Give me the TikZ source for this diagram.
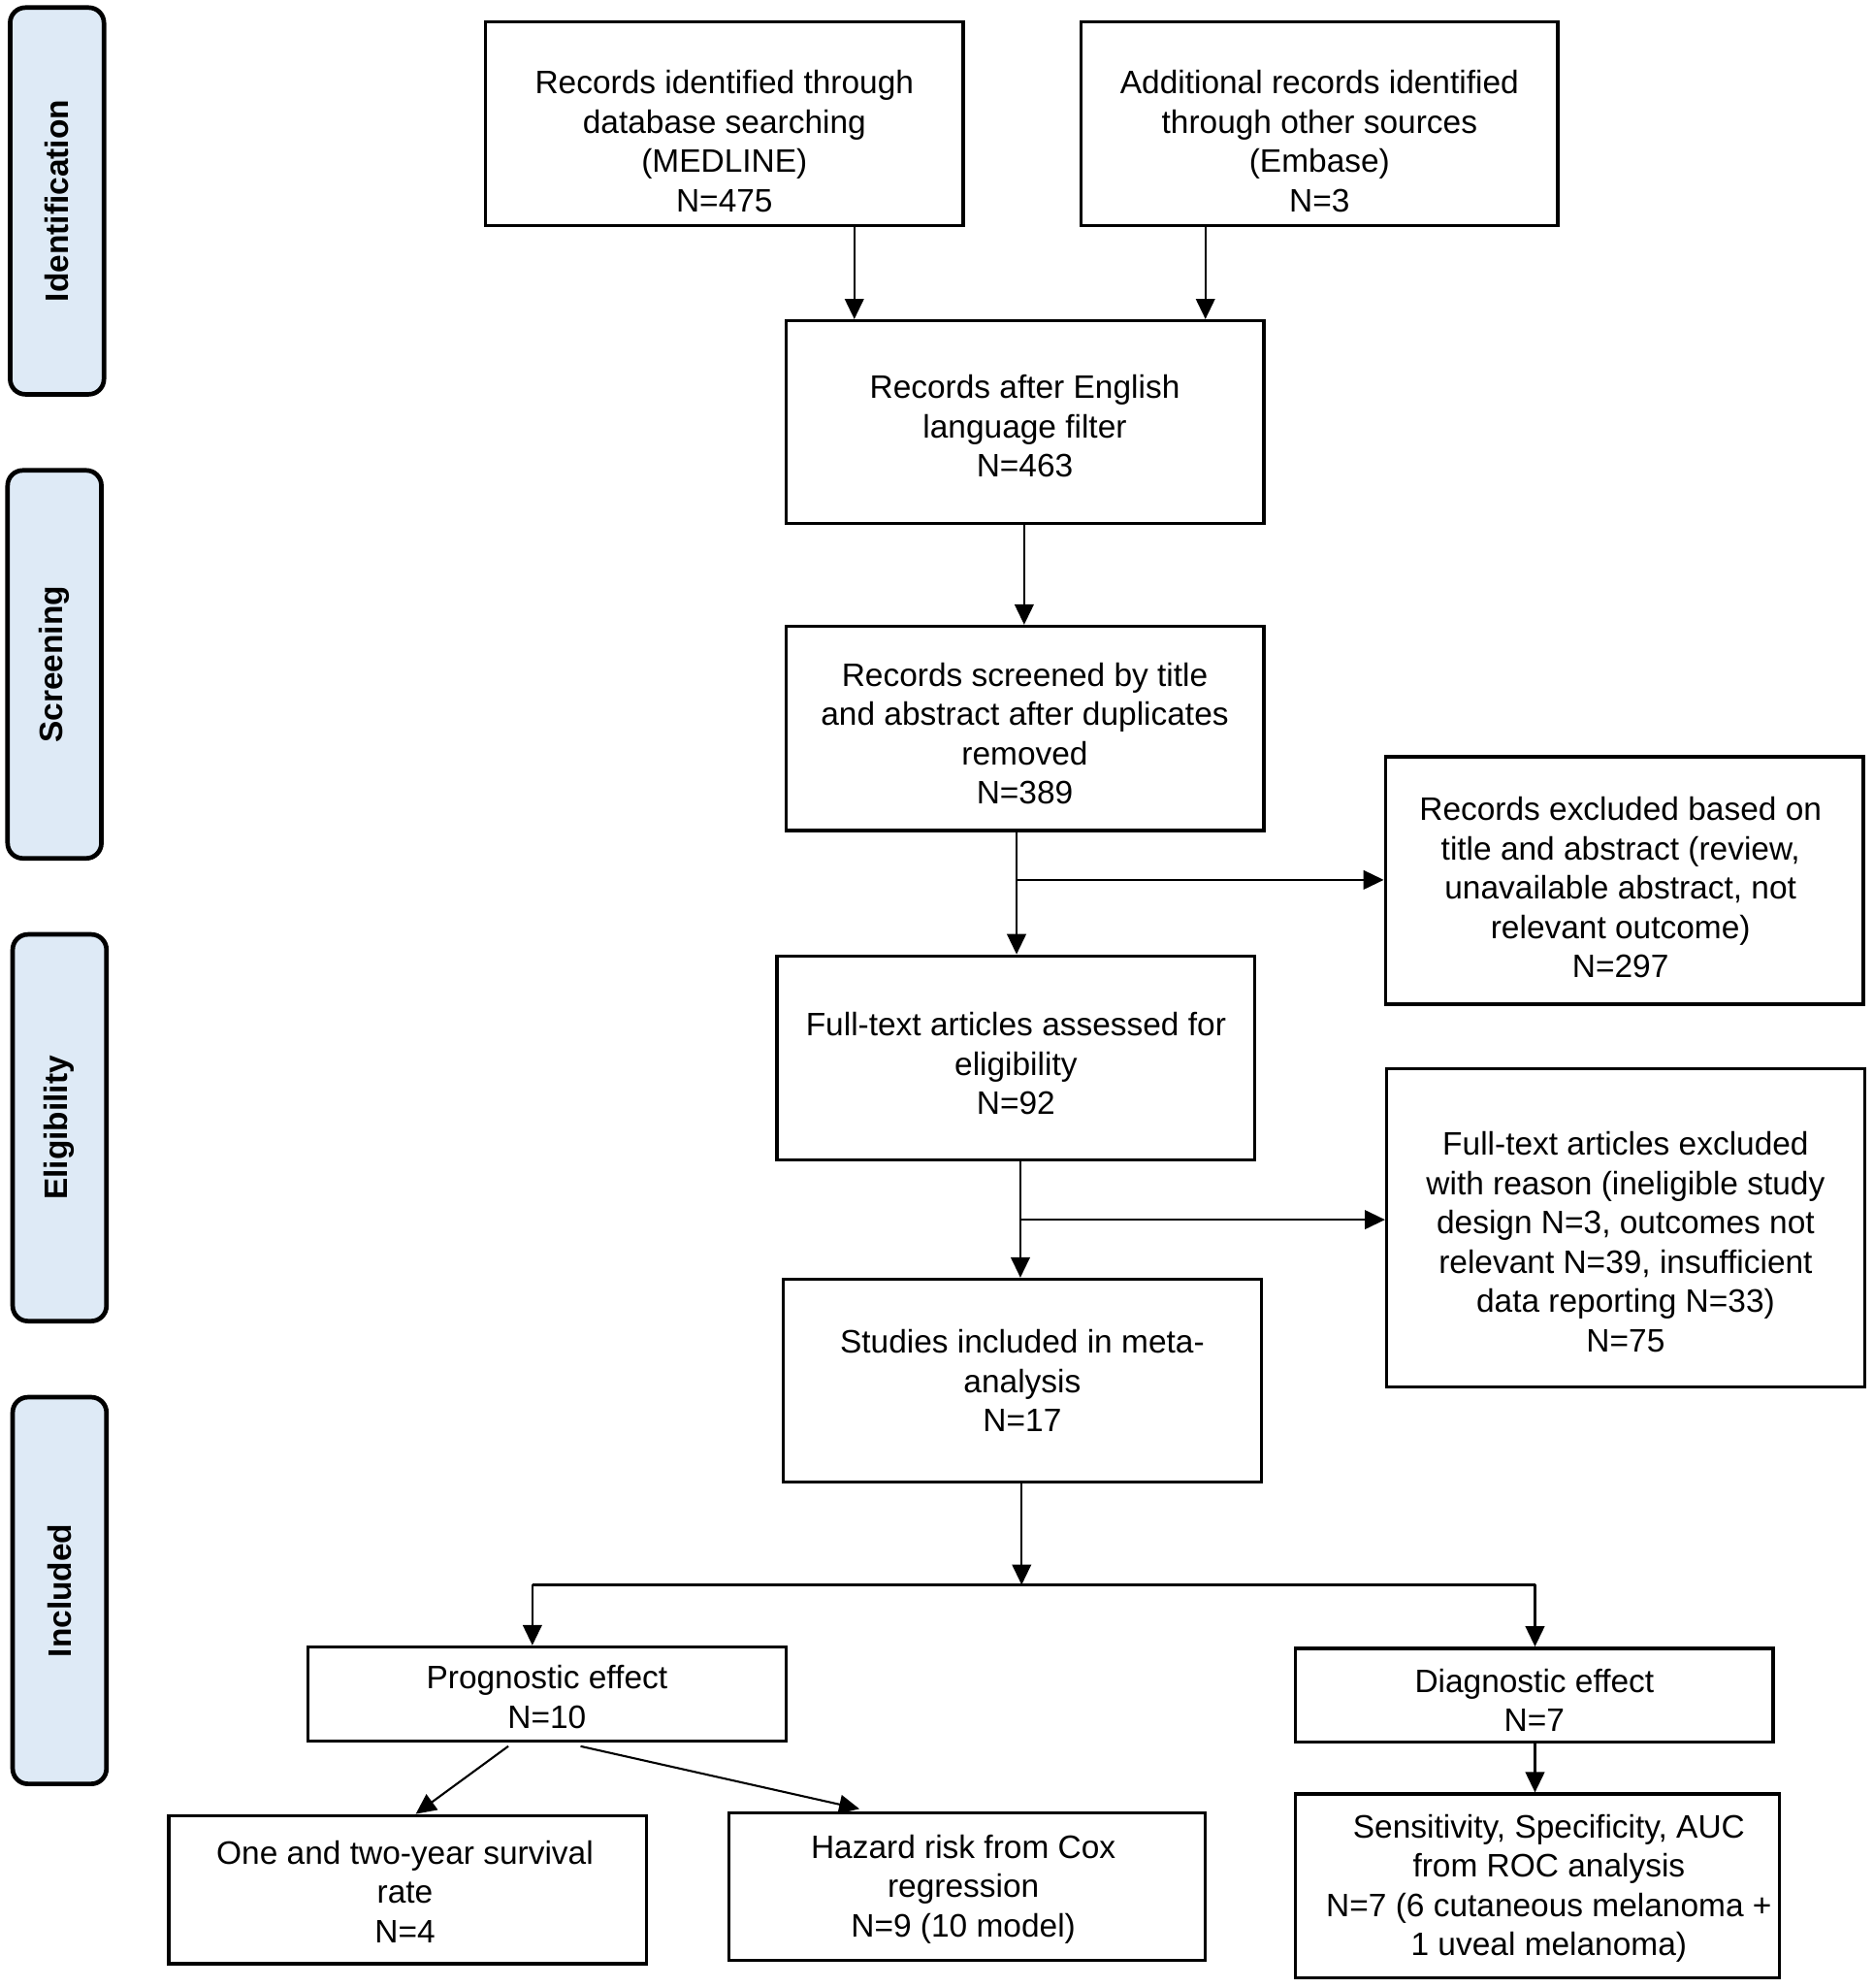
\documentclass[tikz,border=0pt]{standalone}
\usepackage{fontspec}
\setmainfont{Liberation Sans}
\usetikzlibrary{arrows.meta,calc}
\definecolor{sidefill}{HTML}{DEEAF6}
\tikzset{
  flowbox/.style={draw=black, line width=1.3pt, fill=white, inner sep=0pt},
  flowtxt/.style={align=center, inner sep=0pt, font=\fontsize{12.8}{15.5}\selectfont},
  sidebox/.style={draw=black, line width=1.8pt, fill=sidefill, rounded corners=6pt, inner sep=0pt},
  sidetxt/.style={rotate=90, inner sep=0pt, font=\fontsize{12.8}{15.5}\selectfont\bfseries},
  arr/.style={line width=0.8pt, -{Triangle[length=8pt,width=7.5pt]}},
  ln/.style={line width=0.8pt}
}
\begin{document}
\begin{tikzpicture}[x=0.5pt,y=-0.5pt]
\useasboundingbox (0,0) rectangle (1478,1568);
% side labels
\node[sidebox, minimum width=37pt, minimum height=152.5pt] (s1) at (45,158.5) {};
\node[sidetxt] (s1t) at (s1.center) {Identification};
\node[sidebox, minimum width=37pt, minimum height=153pt] (s2) at (43,524) {};
\node[sidetxt] (s2t) at (s2.center) {Screening};
\node[sidebox, minimum width=37pt, minimum height=152.5pt] (s3) at (47,889.5) {};
\node[sidetxt] (s3t) at (s3.center) {Eligibility};
\node[sidebox, minimum width=37pt, minimum height=152.5pt] (s4) at (47,1254.5) {};
\node[sidetxt] (s4t) at (s4.center) {Included};
% boxes
\node[flowbox, minimum width=188.5pt, minimum height=80.5pt] (A) at (571.5,97.5) {};
\node[flowtxt] (At) at ($(A.center)+(0,14)$) {Records identified through\\database searching\\(MEDLINE)\\N=475};
\node[flowbox, minimum width=188pt, minimum height=80.5pt] (B) at (1041,97.5) {};
\node[flowtxt] (Bt) at ($(B.center)+(0,14)$) {Additional records identified\\through other sources\\(Embase)\\N=3};
\node[flowbox, minimum width=188.5pt, minimum height=80pt] (C) at (808.5,333) {};
\node[flowtxt] (Ct) at ($(C.center)+(0,3)$) {Records after English\\language filter\\N=463};
\node[flowbox, minimum width=188.5pt, minimum height=80.5pt] (D) at (808.5,574.5) {};
\node[flowtxt] (Dt) at ($(D.center)+(0,4)$) {Records screened by title\\and abstract after duplicates\\removed\\N=389};
\node[flowbox, minimum width=188.5pt, minimum height=97.5pt] (E) at (1281.5,694.5) {};
\node[flowtxt] (Et) at ($(E.center)+(-3,5.5)$) {Records excluded based on\\title and abstract (review,\\unavailable abstract, not\\relevant outcome)\\N=297};
\node[flowbox, minimum width=188.5pt, minimum height=80.5pt] (F) at (801.5,834.5) {};
\node[flowtxt] (Ft) at ($(F.center)+(0,4.5)$) {Full-text articles assessed for\\eligibility\\N=92};
\node[flowbox, minimum width=188.5pt, minimum height=125.5pt] (G) at (1282.5,968.5) {};
\node[flowtxt] (Gt) at ($(G.center)+(0,11)$) {Full-text articles excluded\\with reason (ineligible study\\design N=3, outcomes not\\relevant N=39, insufficient\\data reporting N=33)\\N=75};
\node[flowbox, minimum width=188.5pt, minimum height=80pt] (H) at (806.5,1089) {};
\node[flowtxt] (Ht) at ($(H.center)+(0,0)$) {Studies included in meta-\\analysis\\N=17};
\node[flowbox, minimum width=188.5pt, minimum height=37pt] (I) at (431.5,1336) {};
\node[flowtxt] (It) at ($(I.center)+(0,2.5)$) {Prognostic effect\\N=10};
\node[flowbox, minimum width=188.5pt, minimum height=37pt] (J) at (1210.5,1337) {};
\node[flowtxt] (Jt) at ($(J.center)+(0,4)$) {Diagnostic effect\\N=7};
\node[flowbox, minimum width=188.5pt, minimum height=58.5pt] (K) at (321.5,1490.5) {};
\node[flowtxt] (Kt) at ($(K.center)+(-2,1.5)$) {One and two-year survival\\rate\\N=4};
\node[flowbox, minimum width=188pt, minimum height=58pt] (L) at (763,1488) {};
\node[flowtxt] (Lt) at ($(L.center)+(-3,2)$) {Hazard risk from Cox\\regression\\N=9 (10 model)};
\node[flowbox, minimum width=191pt, minimum height=72.5pt] (M) at (1213,1487.5) {};
\node[flowtxt] (Mt) at ($(M.center)+(9,2)$) {Sensitivity, Specificity, AUC\\from ROC analysis\\N=7 (6 cutaneous melanoma +\\1 uveal melanoma)};
% helper coordinates
\coordinate (xa) at (674,0);
\coordinate (xb) at (951,0);
\coordinate (xc) at (808,0);
\coordinate (xd) at (802,0);
\coordinate (xf) at (805,0);
\coordinate (xh) at (806,0);
\coordinate (xi) at (420,0);
\coordinate (xj) at (1211,0);
\coordinate (yd) at (0,694);
\coordinate (yf) at (0,962);
\coordinate (split) at (806,1250);
\coordinate (xk1) at (401,0);
\coordinate (xk2) at (328,0);
\coordinate (xl1) at (458,0);
\coordinate (xl2) at (678,0);
% connectors
\draw[arr] (A.south -| xa) -- (C.north -| xa);
\draw[arr] (B.south -| xb) -- (C.north -| xb);
\draw[arr] (C.south -| xc) -- (D.north -| xc);
\draw[arr] (D.south -| xd) -- (F.north -| xd);
\draw[arr] (xd |- yd) -- (E.west |- yd);
\draw[arr] (F.south -| xf) -- (H.north -| xf);
\draw[arr] (xf |- yf) -- (G.west |- yf);
\draw[arr] (H.south -| xh) -- (split);
\draw[ln] (split -| xi) -- (split -| xj);
\draw[arr] (split -| xi) -- (I.north -| xi);
\draw[arr] (split -| xj) -- (J.north -| xj);
\draw[arr] ([yshift=-1.5pt]I.south -| xk1) -- (K.north -| xk2);
\draw[arr] ([yshift=-1.5pt]I.south -| xl1) -- ([yshift=1pt]L.north -| xl2);
\draw[arr] (J.south -| xj) -- (M.north -| xj);
\end{tikzpicture}
\end{document}
